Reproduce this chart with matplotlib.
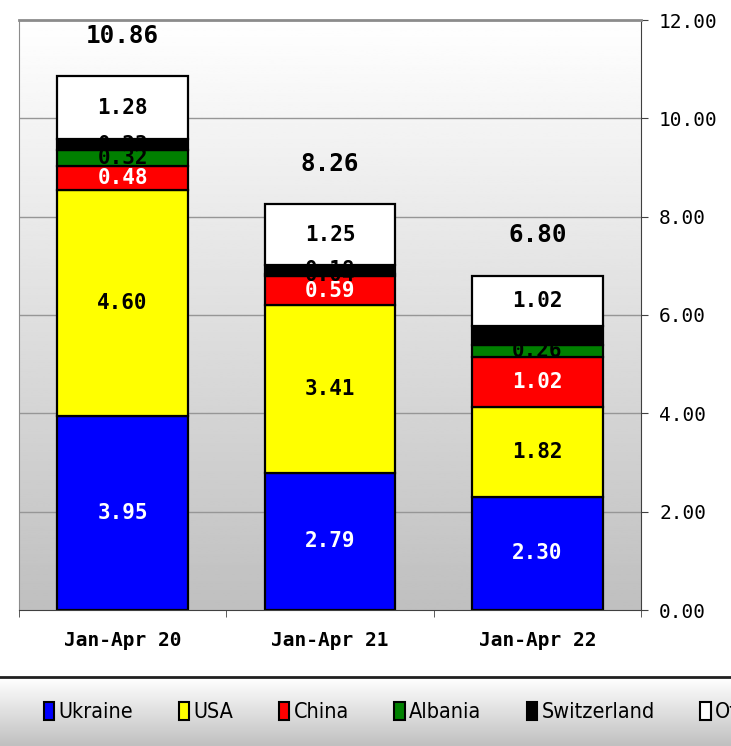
import numpy as np
import matplotlib
matplotlib.use("Agg")
import matplotlib.pyplot as plt
from matplotlib.patches import Patch
from matplotlib.transforms import Bbox, TransformedBbox

# data
periods = ["Jan-Apr 20", "Jan-Apr 21", "Jan-Apr 22"]
countries = ["Ukraine", "USA", "China", "Albania", "Switzerland", "Others"]
ukraine = [3.95, 2.79, 2.30]
usa = [4.60, 3.41, 1.82]
china = [0.48, 0.59, 1.02]
albania = [0.32, 0.04, 0.26]
switzerland = [0.23, 0.18, 0.38]
others = [1.28, 1.25, 1.02]
totals = [10.86, 8.26, 6.80]
y_ticks = [0, 2, 4, 6, 8, 10, 12]

series = [ukraine, usa, china, albania, switzerland, others]
colors = ["#0000ff", "#ffff00", "#ff0000", "#008000", "#000000", "#ffffff"]
label_colors = ["white", "black", "white", "black", "black", "black"]

W, H = 731, 746
fig = plt.figure(figsize=(W / 100, H / 100), dpi=100)
ax = fig.add_axes([19 / W, 1 - 610 / H, (641 - 19) / W, (610 - 20) / H])

# gradient background of plot area
grad = np.linspace(1, 0, 256).reshape(-1, 1)
ax.imshow(grad, extent=[-0.5, 2.5, 0, 12], aspect="auto", cmap="gray",
          vmin=-3.0, vmax=1, origin="upper", zorder=0)

ax.set_xlim(-0.5, 2.5)
ax.set_ylim(0, 12)

for yv in y_ticks[1:-1]:
    ax.axhline(yv, color="#969696", lw=1.0, zorder=1)

x = np.arange(len(periods))
width = 0.63
bottom = np.zeros(len(periods))
for vals, col, lc in zip(series, colors, label_colors):
    ax.bar(x, vals, width=width, bottom=bottom, color=col,
           edgecolor="black", linewidth=1.6, zorder=2)
    for xi, v, b in zip(x, vals, bottom):
        t = ax.text(xi, b + v / 2, f"{v:.2f}", ha="center", va="center",
                    color=lc, fontsize=15, fontweight="bold",
                    family="DejaVu Sans Mono", zorder=3)
        # labels are cut to their own segment, as in the original
        seg = Bbox([[xi - width / 2, b], [xi + width / 2, b + v]])
        t.set_clip_box(TransformedBbox(seg, ax.transData))
    bottom += np.array(vals)

for xi, tot in zip(x, totals):
    ax.annotate(f"{tot:.2f}", (xi, tot), xytext=(0, 29), textcoords="offset points",
                ha="center", va="center", fontsize=17.5, fontweight="bold",
                family="DejaVu Sans Mono")

# axes styling
ax.yaxis.tick_right()
ax.set_yticks(y_ticks)
ax.set_yticklabels([f"{v:.2f}" for v in y_ticks], family="DejaVu Sans Mono", fontsize=14)
ax.tick_params(axis="y", direction="out", length=5, pad=8, color="#404040")
ax.set_xticks([-0.5, 0.5, 1.5, 2.5], minor=True)
ax.set_xticks(x)
ax.set_xticklabels(periods, family="DejaVu Sans Mono", fontsize=14, fontweight="bold")
ax.tick_params(axis="x", which="major", length=0, pad=15)
ax.tick_params(axis="x", which="minor", direction="out", length=5, color="#404040")
ax.spines["left"].set_color("#8c8c8c")
ax.spines["top"].set_color("#8c8c8c")
ax.spines["top"].set_linewidth(2)
ax.spines["right"].set_color("#404040")
ax.spines["bottom"].set_color("#404040")

# legend band at the bottom
lax = fig.add_axes([0, 0, 1, (H - 678) / H])
lax.imshow(grad, extent=[0, 1, 0, 1], aspect="auto", cmap="gray",
           vmin=-3.0, vmax=1, origin="upper")
lax.set_xlim(0, 1)
lax.set_ylim(0, 1)
lax.axis("off")
fig.add_artist(plt.Line2D([0, 1], [1 - 677 / H, 1 - 677 / H], color="#202020", lw=2))

handles = [Patch(facecolor=c, edgecolor="black", linewidth=1.5) for c in colors]
fig.legend(handles, countries, loc="center left", bbox_to_anchor=(35 / W, 1 - 712 / H),
           ncol=6, frameon=False, handlelength=0.5, handleheight=0.9,
           handletextpad=0.2, columnspacing=2.1, borderaxespad=0,
           prop={"family": "DejaVu Sans", "stretch": "condensed", "size": 15.5})

fig.savefig("out.png", dpi=100)
